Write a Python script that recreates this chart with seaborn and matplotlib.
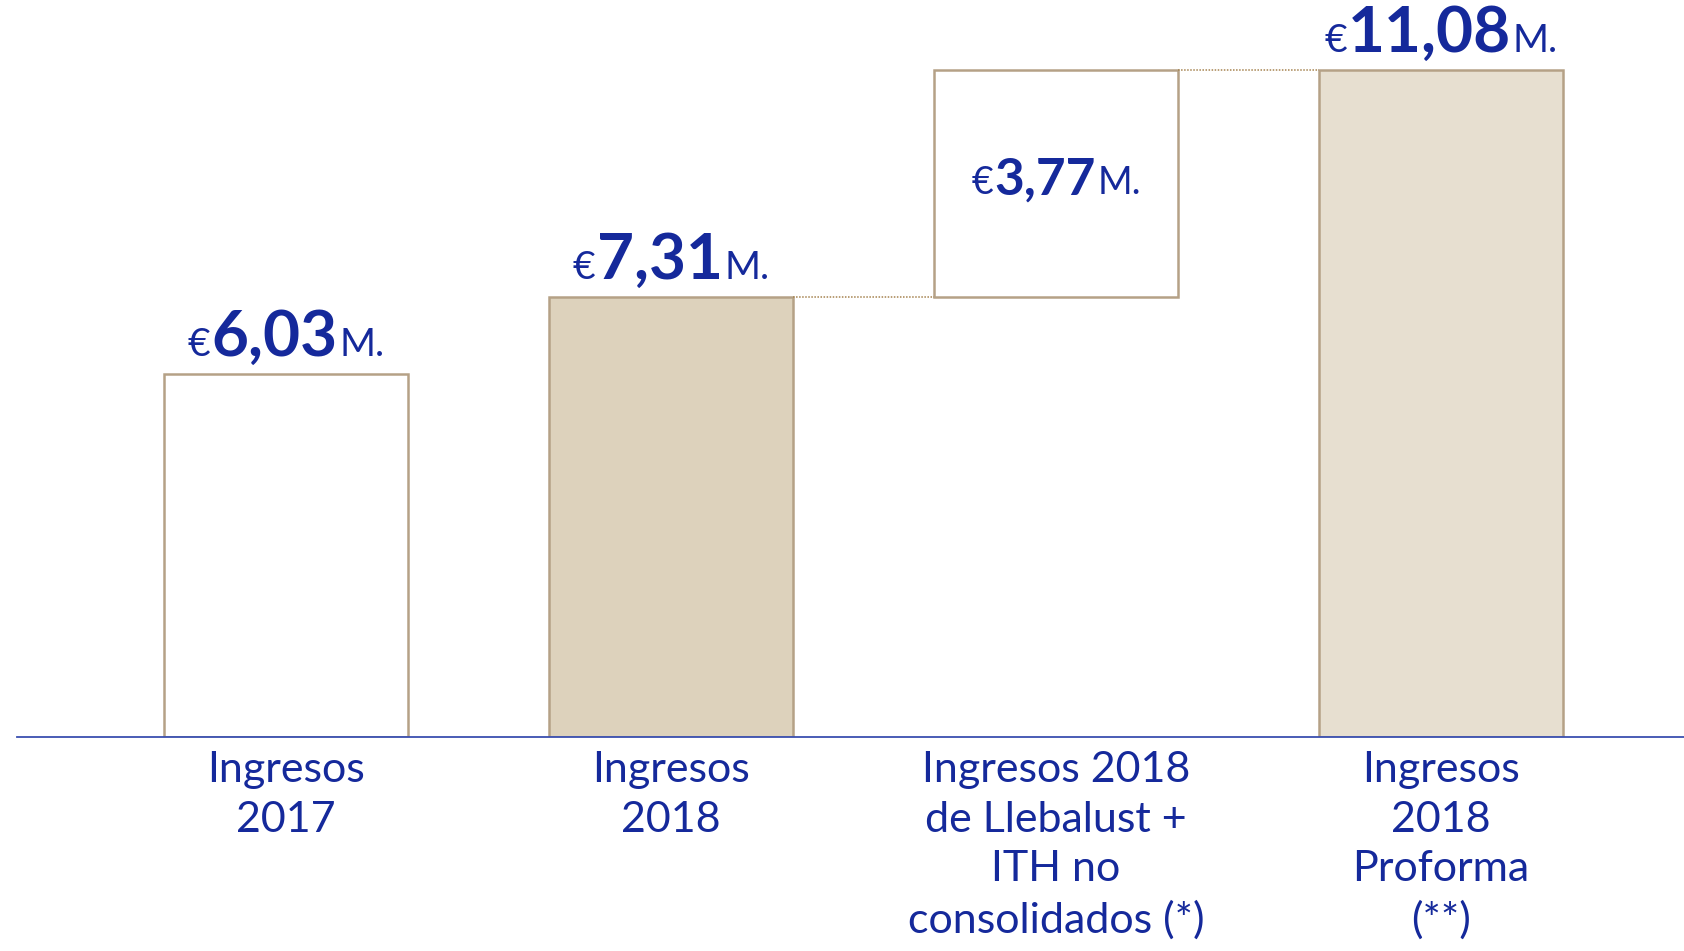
import matplotlib
matplotlib.use("Agg")
import matplotlib.pyplot as plt
from matplotlib.offsetbox import TextArea, HPacker, AnnotationBbox
import seaborn as sns
import pandas as pd

# data (millions of euros)
categories = ["Ingresos\n2017", "Ingresos\n2018",
              "Ingresos 2018\nde Llebalust +\nITH no\nconsolidados (*)",
              "Ingresos\n2018\nProforma\n(**)"]
values = [6.03, 7.31, 3.77, 11.08]
bases = [0, 0, 7.31, 0]
fills = ["#ffffff", "#ddd2bc", "#ffffff", "#e7dfd0"]

blue = "#15299b"
edge = "#b5a186"

sns.set_theme(style="white")
plt.rcParams['font.family'] = ['Lato', 'DejaVu Sans']

df = pd.DataFrame({"cat": categories, "value": values, "base": bases})
df["top"] = df["base"] + df["value"]

fig = plt.figure(figsize=(16.84, 9.51), dpi=100)
ax = fig.add_axes([0, 214 / 951, 1, 737 / 951])

width = 0.634
sns.barplot(data=df, x="cat", y="top", hue="cat", palette=fills, legend=False,
            width=width, edgecolor=edge, linewidth=1.8, saturation=1, ax=ax)

# floating bar of the waterfall starts at its base
for patch, b, v in zip(ax.patches, bases, values):
    patch.set_y(b)
    patch.set_height(v)

ax.set_xlim(-0.743, 3.631)
ax.set_ylim(0, 12.25)

# dotted connectors between bars
for i in range(1, 3):
    lvl = df["top"][i]
    ax.plot([i + width / 2, i + 1 - width / 2], [lvl, lvl], ls=(0, (1, 1)),
            color="#a58350", lw=1.1)

for s in ["top", "left", "right"]:
    ax.spines[s].set_visible(False)
ax.spines["bottom"].set_color("#3a4fb0")
ax.spines["bottom"].set_linewidth(1.3)
ax.spines["bottom"].set_bounds(-0.70, 3.631)

ax.set_yticks([])
ax.set_xlabel("")
ax.set_ylabel("")
ax.tick_params(axis="x", length=0, pad=10, labelsize=31, labelcolor=blue)
for lab in ax.get_xticklabels():
    lab.set_linespacing(1.38)


def money(x, y, v, big, small, dy):
    num = f"{v:.2f}".replace(".", ",")
    parts = [TextArea("€", textprops=dict(color=blue, fontsize=small)),
             TextArea(num, textprops=dict(color=blue, fontsize=big, fontweight="bold")),
             TextArea("M.", textprops=dict(color=blue, fontsize=small))]
    box = HPacker(children=parts, align="baseline", pad=0, sep=1)
    ab = AnnotationBbox(box, (x, y), xybox=(0, dy), xycoords="data",
                        boxcoords="offset points", box_alignment=(0.5, 0),
                        frameon=False)
    ax.add_artist(ab)


for i, row in df.iterrows():
    if row["base"] > 0:
        money(i, row["base"] + row["value"] / 2, row["value"], 37, 27, -14)
    else:
        money(i, row["top"], row["value"], 46, 28, 6)

fig.savefig("out.png", dpi=100)
